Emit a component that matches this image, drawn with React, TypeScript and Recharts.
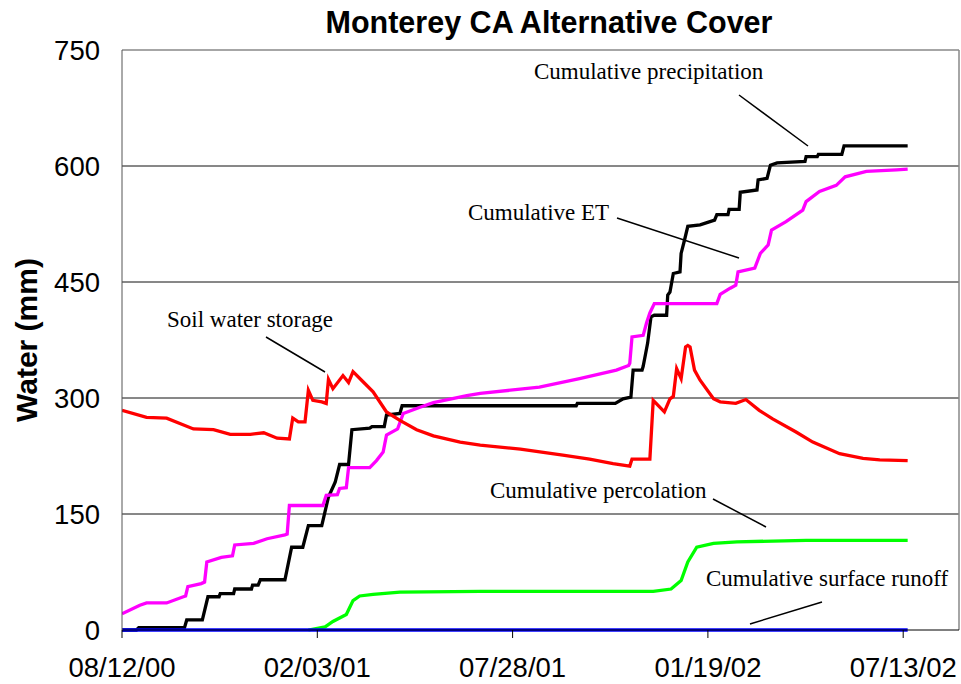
import React from 'react';
import { LineChart, Line, XAxis, YAxis, ReferenceLine } from 'recharts';

// x = days since 08/12/00, y = water (mm)
const tickDays = [0, 175, 350, 525, 700];
const dateLabels = ['08/12/00', '02/03/01', '07/28/01', '01/19/02', '07/13/02'];
const yTicks = [0, 150, 300, 450, 600, 750];
const gridValues = [150, 300, 450, 600];

const precipitation: [number, number][] = [
  [0, 0], [13, 0], [15, 3], [56, 3], [58, 13], [72, 13], [77, 43], [87, 43], [88, 47], [100, 47], [101, 53],
  [116, 53], [117, 58], [122, 58], [124, 65], [146, 65], [152, 107], [162, 107], [167, 135], [179, 135],
  [185, 172], [191, 191], [195, 214], [203, 214], [206, 259], [222, 261], [224, 263], [235, 263], [237, 278],
  [249, 280], [251, 290], [407, 290], [408, 293], [442, 293], [449, 299], [456, 301], [458, 336], [466, 336],
  [467, 341], [469, 356], [471, 371], [474, 405], [477, 407], [488, 407], [489, 433], [491, 437], [494, 461],
  [500, 463], [501, 487], [504, 504], [507, 522], [518, 524], [531, 530], [533, 537], [543, 537], [544, 544],
  [553, 544], [554, 566], [569, 569], [570, 582], [578, 584], [581, 601], [587, 604], [612, 606], [613, 612],
  [623, 612], [624, 615], [645, 615], [647, 626], [704, 626],
];

const evapotranspiration: [number, number][] = [
  [0, 21], [16, 32], [22, 35], [40, 35], [55, 43], [57, 44], [59, 56], [71, 60], [74, 62], [76, 88], [89, 94],
  [99, 96], [101, 110], [118, 112], [130, 118], [146, 123], [148, 124], [150, 161], [180, 161], [183, 174],
  [193, 175], [195, 183], [201, 184], [203, 210], [222, 210], [228, 219], [234, 230], [237, 252], [247, 260],
  [252, 280], [267, 288], [279, 294], [309, 303], [321, 306], [374, 314], [410, 325], [443, 336], [454, 342],
  [455, 345], [457, 379], [467, 381], [470, 397], [473, 410], [477, 422], [533, 422], [536, 434], [545, 442],
  [550, 446], [552, 463], [567, 468], [572, 487], [579, 498], [582, 517], [595, 528], [610, 543], [613, 554],
  [625, 567], [640, 575], [648, 586], [667, 593], [694, 595], [704, 596],
];

const soilWater: [number, number][] = [
  [0, 284], [22, 275], [40, 274], [64, 260], [82, 259], [97, 253], [115, 253], [127, 255], [139, 248],
  [150, 247], [153, 274], [158, 269], [164, 269], [167, 310], [171, 297], [179, 295], [183, 293], [185, 324],
  [189, 312], [198, 329], [203, 320], [207, 334], [216, 321], [225, 308], [237, 282], [249, 271], [264, 259],
  [279, 251], [303, 243], [321, 239], [357, 234], [395, 226], [419, 221], [440, 215], [455, 212], [457, 221],
  [473, 221], [476, 297], [486, 282], [491, 299], [494, 302], [497, 338], [501, 325], [505, 366], [507, 368],
  [509, 366], [513, 336], [518, 323], [530, 299], [536, 295], [550, 293], [559, 298], [571, 284], [583, 273],
  [604, 256], [619, 243], [643, 228], [664, 222], [679, 220], [704, 219],
];

const percolation: [number, number][] = [
  [167, 0], [182, 4], [189, 11], [201, 20], [207, 38], [213, 44], [225, 46], [249, 49], [321, 50], [476, 50],
  [492, 53], [501, 64], [507, 88], [515, 107], [530, 112], [551, 114], [613, 116], [704, 116],
];

const runoff: [number, number][] = [[0, 0], [704, 0]];

const rows = (pts: [number, number][]) => pts.map(([day, v]) => ({ day, v }));

const sans = '"Liberation Sans", Arial, sans-serif';
const serif = '"Liberation Serif", "Times New Roman", serif';

export default function App() {
  return (
    <div style={{ position: 'absolute', left: 0, top: 0, width: 961, height: 684, background: '#fff' }}>
      <LineChart width={961} height={684} margin={{ top: 50, right: 2, bottom: 0, left: 0 }}>
        <XAxis
          type="number"
          dataKey="day"
          domain={[0, 750]}
          ticks={tickDays}
          interval={0}
          allowDataOverflow
          tickFormatter={(d: number) => dateLabels[tickDays.indexOf(d)] ?? ''}
          height={54}
          tickSize={8}
          tickMargin={19}
          stroke="#000"
          tick={{ fill: '#000', fontSize: 27.5, fontFamily: sans }}
        />
        <YAxis
          type="number"
          domain={[0, 750]}
          ticks={yTicks}
          interval={0}
          width={122}
          tickLine={false}
          tickSize={0}
          tickMargin={22}
          stroke="#555"
          tick={{ fill: '#000', fontSize: 27.5, fontFamily: sans }}
        />
        {gridValues.map((g) => (
          <ReferenceLine key={g} y={g} stroke="#111" strokeWidth={1} />
        ))}
        <ReferenceLine y={750} stroke="#888" strokeWidth={1.5} />
        <ReferenceLine x={750} stroke="#888" strokeWidth={1.5} />
        <Line data={rows(precipitation)} dataKey="v" type="linear" stroke="#000000" strokeWidth={3.3} dot={false} isAnimationActive={false} />
        <Line data={rows(evapotranspiration)} dataKey="v" type="linear" stroke="#FF00FF" strokeWidth={3.3} dot={false} isAnimationActive={false} />
        <Line data={rows(percolation)} dataKey="v" type="linear" stroke="#00FF00" strokeWidth={3.3} dot={false} isAnimationActive={false} />
        <Line data={rows(runoff)} dataKey="v" type="linear" stroke="#0000FF" strokeWidth={3.3} dot={false} isAnimationActive={false} />
        <Line data={rows(soilWater)} dataKey="v" type="linear" stroke="#FF0000" strokeWidth={3.3} dot={false} isAnimationActive={false} />
      </LineChart>
      <svg width={961} height={684} style={{ position: 'absolute', left: 0, top: 0, pointerEvents: 'none' }}>
        <text x={549} y={33} textAnchor="middle" fontFamily={sans} fontWeight="bold" fontSize={30.5} fill="#000">
          Monterey CA Alternative Cover
        </text>
        <text x={37} y={340} textAnchor="middle" fontFamily={sans} fontWeight="bold" fontSize={30} fill="#000" transform="rotate(-90 37 340)">
          Water (mm)
        </text>
        <g fontFamily={serif} fontSize={23} fill="#000">
          <text x={534} y={79}>Cumulative precipitation</text>
          <text x={468} y={220}>Cumulative ET</text>
          <text x={167} y={327}>Soil water storage</text>
          <text x={490} y={498}>Cumulative percolation</text>
          <text x={706} y={586}>Cumulative surface runoff</text>
        </g>
        <g stroke="#000" strokeWidth={1.5}>
          <line x1={739} y1={95} x2={808} y2={146} />
          <line x1={617} y1={218} x2={739} y2={258} />
          <line x1={266} y1={337} x2={325} y2={372} />
          <line x1={713} y1={499} x2={766} y2={527} />
          <line x1={822} y1={602} x2={750} y2={624} />
        </g>
      </svg>
    </div>
  );
}
